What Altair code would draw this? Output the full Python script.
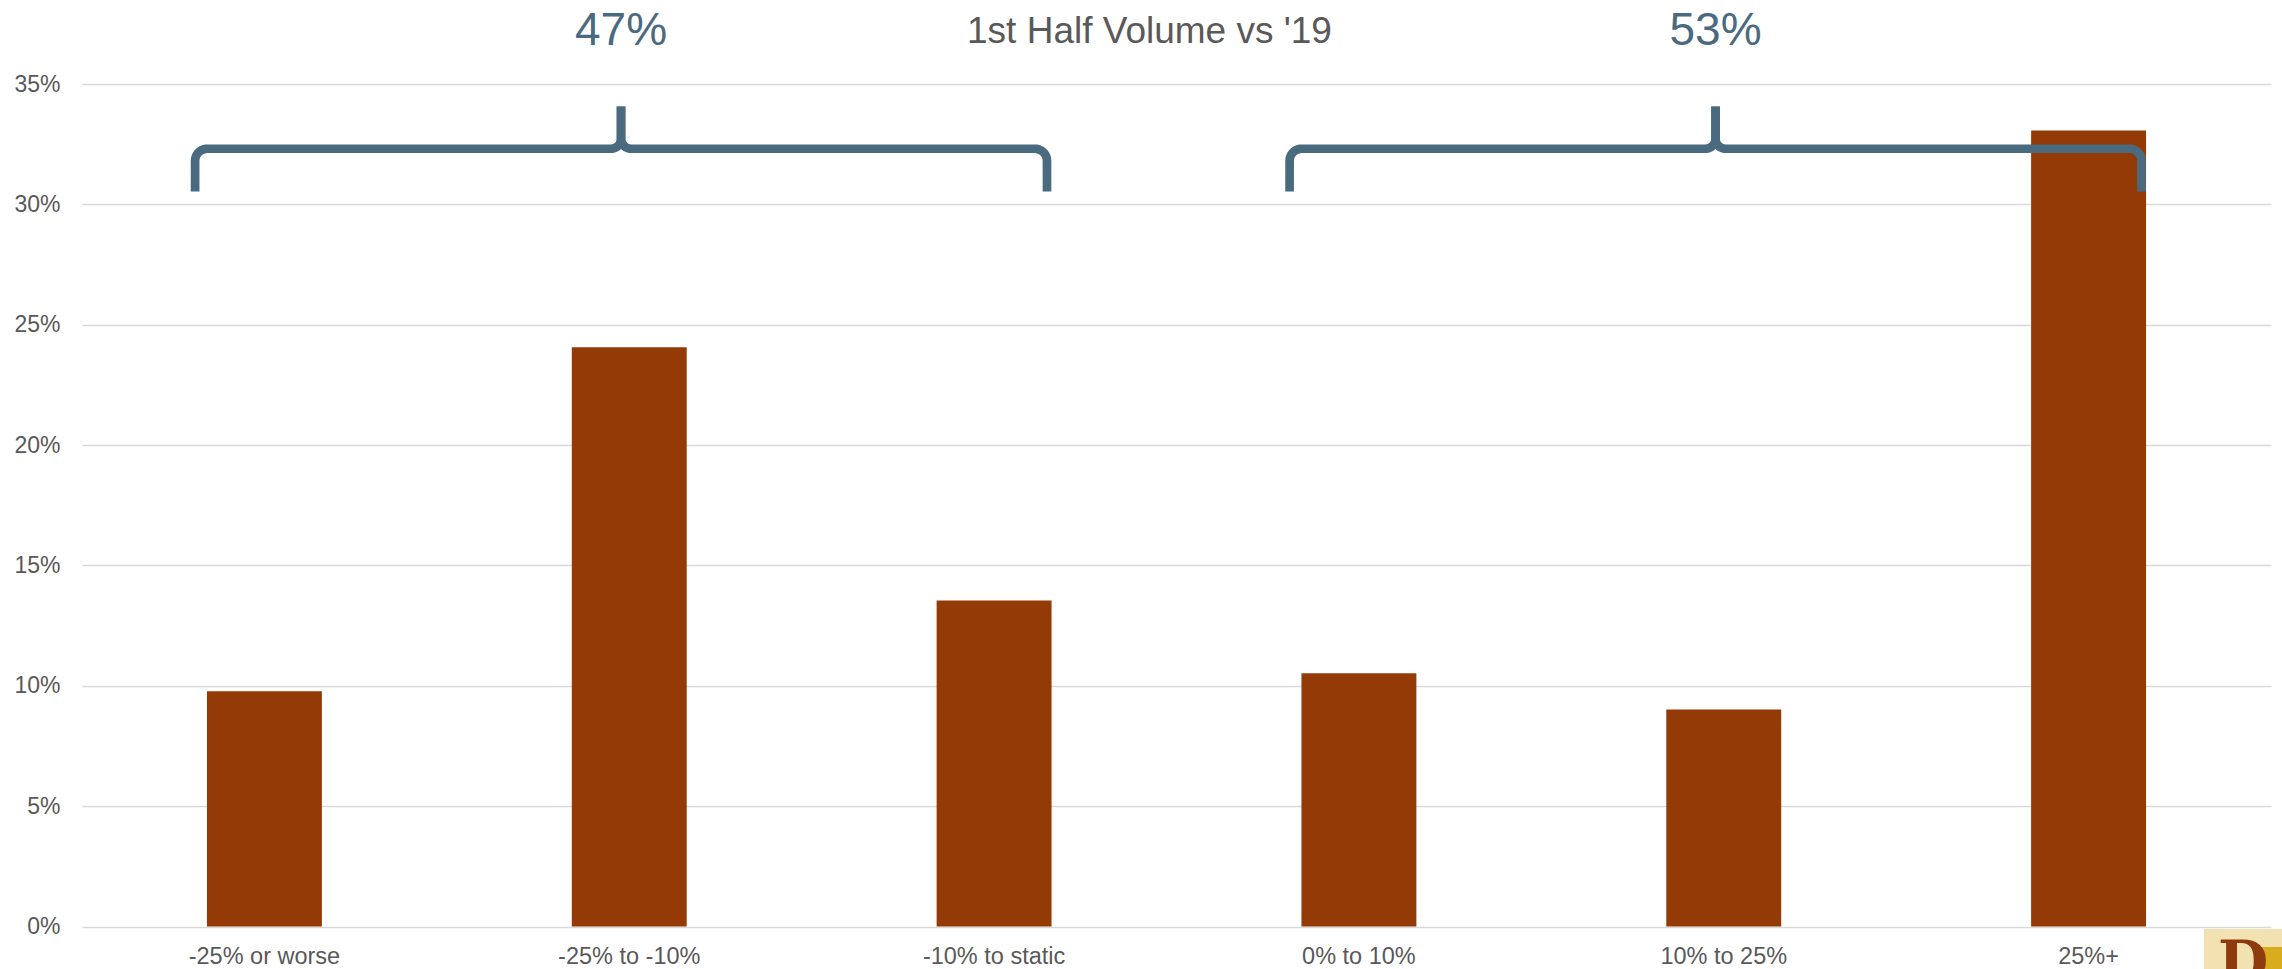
import altair as alt
import numpy as np
import pandas as pd

# Share of respondents by 1st-half volume change vs 2019
categories = ["-25% or worse", "-25% to -10%", "-10% to static",
              "0% to 10%", "10% to 25%", "25%+"]
shares = [9.77, 24.06, 13.54, 10.52, 9.02, 33.07]  # percent
# category index ranges that get a bracket with their combined share
groups = [(0, 2), (3, 5)]
y_ticks = [0, 0.05, 0.10, 0.15, 0.20, 0.25, 0.30, 0.35]

BAR = "#933A06"
BRACE = "#4A6A80"
TEXT = "#595959"
GRID = "#D9D9D9"
FONT = "Liberation Sans"

W, H = 2189, 842.5
Y_MAX = 0.35
PX_X = W / len(categories)   # pixels per category band
PX_Y = H / Y_MAX             # pixels per unit of share

bars_df = pd.DataFrame({"category": categories, "share": [v / 100 for v in shares]})


def arc(cx, cy, rx, ry, a0, a1, n=10):
    t = np.radians(np.linspace(a0, a1, n))
    return list(cx + rx * np.cos(t)), list(cy + ry * np.sin(t))


def brace_halves(lo, hi, y_foot=0.3053, y_bar=0.3231, y_tip=0.3407):
    xl, xr = lo + 0.31, hi + 0.645
    xt = (xl + xr) / 2
    rcx, rcy = 12 / PX_X, 12 / PX_Y    # outer corner radius
    rkx, rky = 10 / PX_X, 10 / PX_Y    # cusp radius
    # left half: foot -> corner -> bar -> cusp -> tip
    xs, ys = [xl], [y_foot]
    ax, ay = arc(xl + rcx, y_bar - rcy, rcx, rcy, 180, 90)
    xs += ax; ys += ay
    ax, ay = arc(xt - rkx, y_bar + rky, rkx, rky, -90, 0)
    xs += ax; ys += ay
    xs.append(xt); ys.append(y_tip)
    left = (xs, ys)
    # right half: tip -> cusp -> bar -> corner -> foot
    xs, ys = [xt], [y_tip]
    ax, ay = arc(xt + rkx, y_bar + rky, rkx, rky, 180, 270)
    xs += ax; ys += ay
    ax, ay = arc(xr - rcx, y_bar - rcy, rcx, rcy, 90, 0)
    xs += ax; ys += ay
    xs.append(xr); ys.append(y_foot)
    right = (xs, ys)
    return xt, [left, right]


rows, label_rows = [], []
for g, (lo, hi) in enumerate(groups):
    xt, halves = brace_halves(lo, hi)
    for h, (xs, ys) in enumerate(halves):
        for i, (x, y) in enumerate(zip(xs, ys)):
            rows.append({"seg": f"{g}-{h}", "order": i, "x": x, "y": y})
    label_rows.append({"x": xt, "y": 0.3662,
                       "label": f"{round(sum(shares[lo:hi + 1]))}%"})
brace_df = pd.DataFrame(rows)
label_df = pd.DataFrame(label_rows)

x_band = alt.Scale(domain=[0, len(categories)], nice=False, zero=False)
y_scale = alt.Scale(domain=[0, Y_MAX], nice=False)
y_axis = alt.Axis(title=None, format=".0%", values=y_ticks,
                  labelFont=FONT, labelFontSize=23, labelColor=TEXT,
                  labelPadding=22, ticks=False, domain=False,
                  gridColor=GRID, gridWidth=1.6)

bars = alt.Chart(bars_df).mark_bar(color=BAR).encode(
    x=alt.X("category:N", sort=categories,
            scale=alt.Scale(paddingInner=0.685, paddingOuter=0.3425),
            axis=alt.Axis(title=None, labelFont=FONT, labelFontSize=23.5,
                          labelColor=TEXT, labelPadding=18, ticks=False,
                          domain=False, labelAngle=0, grid=False)),
    y=alt.Y("share:Q", scale=y_scale, axis=y_axis),
)

braces = alt.Chart(brace_df).mark_line(
    color=BRACE, strokeWidth=8.7, strokeCap="butt", strokeJoin="round"
).encode(
    x=alt.X("x:Q", scale=x_band, axis=None),
    y=alt.Y("y:Q", scale=y_scale, axis=y_axis),
    detail="seg:N",
    order="order:Q",
)

group_labels = alt.Chart(label_df).mark_text(
    font=FONT, fontSize=46, color=BRACE, baseline="alphabetic", align="center"
).encode(
    x=alt.X("x:Q", scale=x_band, axis=None),
    y=alt.Y("y:Q", scale=y_scale, axis=y_axis),
    text="label:N",
)

title = alt.Chart(pd.DataFrame({"x": [len(categories) / 2], "y": [0.3669],
                                "t": ["1st Half Volume vs '19"]})).mark_text(
    font=FONT, fontSize=37, color=TEXT, baseline="alphabetic", align="center", dx=-27
).encode(
    x=alt.X("x:Q", scale=x_band, axis=None),
    y=alt.Y("y:Q", scale=y_scale, axis=y_axis),
    text="t:N",
)

# small publisher badge in the lower-right corner
badge_df = pd.DataFrame({"k": [0]})
badge_bg = alt.Chart(badge_df).mark_rect(color="#F2E2B2").encode(
    x=alt.value(2122), x2=alt.value(2215), y=alt.value(845), y2=alt.value(900))
badge_gold = alt.Chart(badge_df).mark_rect(color="#D8AC1C").encode(
    x=alt.value(2176), x2=alt.value(2215), y=alt.value(863), y2=alt.value(900))
badge_letter = alt.Chart(badge_df).mark_text(
    text="D", font="DejaVu Serif", fontWeight="bold", fontSize=58,
    color="#8E3A0C", align="left", baseline="alphabetic"
).encode(x=alt.value(2136), y=alt.value(898))

chart = alt.layer(
    bars, braces, group_labels, title, badge_bg, badge_gold, badge_letter
).resolve_scale(x="independent").properties(
    width=W, height=H,
    autosize=alt.AutoSizeParams(type="none"),
    padding={"left": 82, "top": 84, "right": 11, "bottom": 42.5},
    background="white",
).configure_view(stroke=None)

chart.save("out.html", embed_options={"renderer": "svg", "actions": False})
